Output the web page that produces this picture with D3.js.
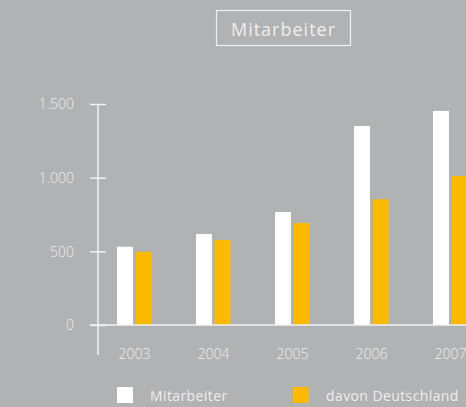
<!DOCTYPE html>
<html><head><meta charset="utf-8">
<script src="https://cdn.jsdelivr.net/npm/d3@7"></script>
<style>
html,body{margin:0;padding:0;background:#b1b2b4;}
svg{display:block;}
text{font-family:"Open Sans",sans-serif;font-weight:300;fill:#eeeeee;}
</style></head><body>
<svg id="c" width="466" height="407"></svg>
<script>
const years = ["2003","2004","2005","2006","2007"];
const mitarbeiter = [531, 618, 767, 1351, 1453];
const deutschland = [497, 577, 692, 853, 1011];
const seriesNames = ["Mitarbeiter","davon Deutschland"];
const seriesColors = ["#ffffff","#fbb900"];
const yTicks = [0, 500, 1000, 1500];
const title = "Mitarbeiter";

const svg = d3.select("#c");
svg.append("rect").attr("width",466).attr("height",407).attr("fill","#b1b2b4");

const y = d3.scaleLinear().domain([0,1500]).range([325,104]);
const x = d3.scaleBand().domain(years).range([95,490]).paddingInner(44/79).paddingOuter(22/79);
const x1 = d3.scaleBand().domain(seriesNames).range([0,x.bandwidth()]).paddingInner(2-35/19);

const fmt = v => d3.format(",")(v).replace(/,/g,".");

// bars
const data = [mitarbeiter, deutschland];
seriesNames.forEach((s,si)=>{
  svg.append("g").selectAll("rect").data(years).join("rect")
    .attr("x",(d)=>x(d)+x1(s))
    .attr("width",x1.bandwidth())
    .attr("y",(d,i)=>y(data[si][i]))
    .attr("height",(d,i)=>y(0)-y(data[si][i]))
    .attr("fill",seriesColors[si]);
});

// y axis
const yAxis = d3.axisLeft(y).tickValues(yTicks).tickFormat(fmt).tickSize(0).tickPadding(0);
const ga = svg.append("g").attr("transform","translate(98,0)").call(yAxis);
ga.select(".domain").remove();
ga.selectAll(".tick text").attr("x",-24).attr("dy","0.35em").style("font-size","14px").style("fill","#eeeeee").style("font-family","'Open Sans',sans-serif").style("font-weight","300");
ga.selectAll(".tick").append("line").attr("x1",-8).attr("x2",8).attr("stroke","#f2f2f2").attr("stroke-width",1.5);
svg.append("line").attr("x1",98).attr("x2",98).attr("y1",y(1500)).attr("y2",355).attr("stroke","#f2f2f2").attr("stroke-width",1.5);
svg.append("line").attr("x1",90).attr("x2",466).attr("y1",y(0)).attr("y2",y(0)).attr("stroke","#f2f2f2").attr("stroke-width",1.5);

// x labels
const xAxis = d3.axisBottom(x).tickSize(0).tickPadding(0);
const gx = svg.append("g").attr("transform","translate(0,349)").call(xAxis);
gx.select(".domain").remove();
gx.selectAll(".tick text").attr("dy","0.71em").style("font-size","14px").style("fill","#eeeeee").style("font-family","'Open Sans',sans-serif").style("font-weight","300");

// title
svg.append("rect").attr("x",216.5).attr("y",10.5).attr("width",134).attr("height",35).attr("fill","none").attr("stroke","#f2f2f2").attr("stroke-width",1.2);
svg.append("text").attr("x",283.5).attr("y",35.5).attr("text-anchor","middle").style("font-size","18px").style("font-weight","400").style("letter-spacing","1px").text(title);

// legend
const legX = [117, 293];
seriesNames.forEach((s,i)=>{
  svg.append("rect").attr("x",legX[i]).attr("y",387).attr("width",16).attr("height",16).attr("fill",seriesColors[i]);
  svg.append("text").attr("x",legX[i]+33).attr("y",400.5).style("font-size","14px").style("font-weight","400").style("letter-spacing","0.4px").text(s);
});
</script>
</body></html>
